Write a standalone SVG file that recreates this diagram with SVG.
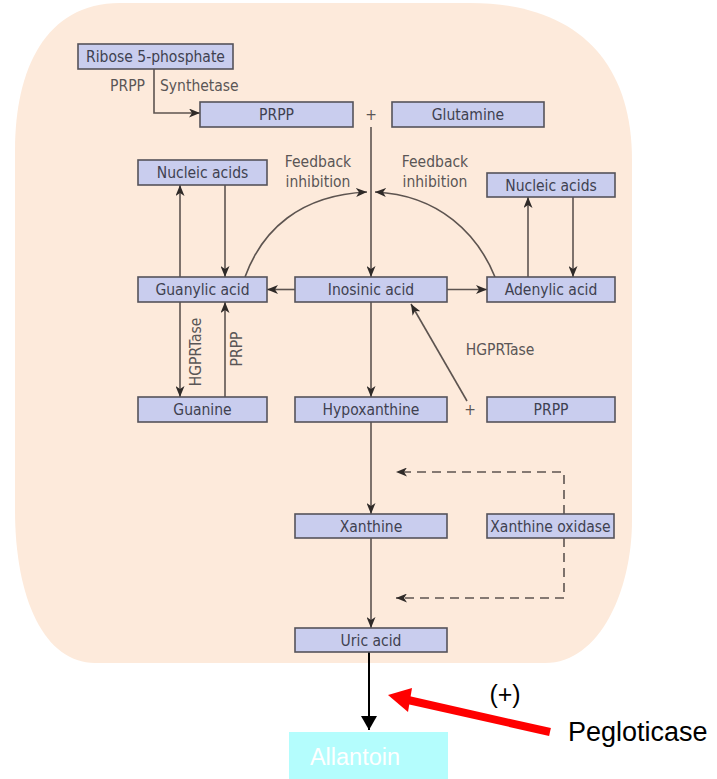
<svg xmlns="http://www.w3.org/2000/svg" width="717" height="779" viewBox="0 0 717 779">
<defs>
<style>
.bg{fill:#fdeadb;stroke:none}
.box rect{fill:#c9cdee;stroke:#55535a;stroke-width:1.6}
.box text{font-family:"DejaVu Sans Condensed","Liberation Sans",Arial,sans-serif;font-size:15.5px;fill:#3f4150;text-anchor:middle}
.lbl{font-family:"DejaVu Sans Condensed","Liberation Sans",Arial,sans-serif;font-size:15.5px;fill:#5a5656}
.ln{fill:none;stroke:#5d5450;stroke-width:1.6}
.dash{fill:none;stroke:#5d5450;stroke-width:1.6;stroke-dasharray:9,6}
</style>
<marker id="ah" markerUnits="userSpaceOnUse" markerWidth="12" markerHeight="9" refX="11" refY="4.5" orient="auto">
<path d="M0,0 L11,4.5 L0,9 L3,4.5 Z" fill="#2f2a28"/>
</marker>
<marker id="bk" markerUnits="userSpaceOnUse" markerWidth="15" markerHeight="16" refX="14" refY="8" orient="auto">
<path d="M0,0 L14,8 L0,16 Z" fill="#000"/>
</marker>
</defs>
<path class="bg" d="M120,3 H470 C575,3 632,60 632,160 V520 C632,590 600,663 545,663 H95 C45,663 15,600 15,510 V150 C15,70 45,3 120,3 Z"/>

<g id="connectors">
<path class="ln" d="M154,69 V113 H200" marker-end="url(#ah)"/>
<path class="ln" d="M371,127 V277" marker-end="url(#ah)"/>
<path class="ln" d="M245,277 C262,230 300,195 367,192" marker-end="url(#ah)"/>
<path class="ln" d="M495,277 C478,235 440,195 375,192" marker-end="url(#ah)"/>
<path class="ln" d="M180,277 V185" marker-end="url(#ah)"/>
<path class="ln" d="M225,185 V277" marker-end="url(#ah)"/>
<path class="ln" d="M528,277 V197" marker-end="url(#ah)"/>
<path class="ln" d="M573,197 V277" marker-end="url(#ah)"/>
<path class="ln" d="M295,289.5 H267" marker-end="url(#ah)"/>
<path class="ln" d="M447,289.5 H487" marker-end="url(#ah)"/>
<path class="ln" d="M180,302 V397" marker-end="url(#ah)"/>
<path class="ln" d="M225,397 V302" marker-end="url(#ah)"/>
<path class="ln" d="M371,302 V397" marker-end="url(#ah)"/>
<path class="ln" d="M467,401 L411,304" marker-end="url(#ah)"/>
<path class="ln" d="M371,422 V514" marker-end="url(#ah)"/>
<path class="ln" d="M371,538 V628" marker-end="url(#ah)"/>
<path class="dash" d="M564,514 V472 H396" marker-end="url(#ah)"/>
<path class="dash" d="M564,538 V598 H396" marker-end="url(#ah)"/>
<path fill="none" stroke="#000" stroke-width="2" d="M369,652 V730" marker-end="url(#bk)"/>
<line x1="550" y1="732" x2="408" y2="700" stroke="#ff0000" stroke-width="8"/>
<polygon points="388,695 412,688 408,712" fill="#ff0000"/>
</g>

<g id="labels">
<text class="lbl" x="145" y="91" text-anchor="end">PRPP</text>
<text class="lbl" x="160" y="91">Synthetase</text>
<text class="lbl" x="371" y="120" text-anchor="middle" font-size="13">+</text>
<text class="lbl" x="318" y="167" text-anchor="middle">Feedback</text>
<text class="lbl" x="318" y="187" text-anchor="middle">inhibition</text>
<text class="lbl" x="435" y="167" text-anchor="middle">Feedback</text>
<text class="lbl" x="435" y="187" text-anchor="middle">inhibition</text>
<text class="lbl" x="500" y="355" text-anchor="middle">HGPRTase</text>
<text class="lbl" x="470" y="415" text-anchor="middle" font-size="13">+</text>
<text class="lbl" transform="translate(201,352) rotate(-90)" text-anchor="middle">HGPRTase</text>
<text class="lbl" transform="translate(242,349) rotate(-90)" text-anchor="middle">PRPP</text>
<text x="505" y="703" font-family="Liberation Sans,Arial,sans-serif" font-size="25" fill="#000" text-anchor="middle">(+)</text>
<text x="568" y="741" font-family="Liberation Sans,Arial,sans-serif" font-size="27" fill="#000">Pegloticase</text>
</g>

<g id="ribose" class="box"><rect x="78" y="44" width="155" height="25"/><text x="155.5" y="62">Ribose 5-phosphate</text></g>
<g id="prpp1" class="box"><rect x="200" y="102" width="153" height="25"/><text x="276.5" y="120">PRPP</text></g>
<g id="glutamine" class="box"><rect x="392" y="102" width="152" height="25"/><text x="468" y="120">Glutamine</text></g>
<g id="nucleic-left" class="box"><rect x="138" y="160" width="129" height="25"/><text x="202.5" y="178">Nucleic acids</text></g>
<g id="nucleic-right" class="box"><rect x="487" y="173" width="128" height="24"/><text x="551" y="190.5">Nucleic acids</text></g>
<g id="guanylic" class="box"><rect x="138" y="277" width="129" height="25"/><text x="202.5" y="295">Guanylic acid</text></g>
<g id="inosinic" class="box"><rect x="295" y="277" width="152" height="25"/><text x="371" y="295">Inosinic acid</text></g>
<g id="adenylic" class="box"><rect x="487" y="277" width="128" height="25"/><text x="551" y="295">Adenylic acid</text></g>
<g id="guanine" class="box"><rect x="138" y="397" width="129" height="25"/><text x="202.5" y="415">Guanine</text></g>
<g id="hypoxanthine" class="box"><rect x="295" y="397" width="152" height="25"/><text x="371" y="415">Hypoxanthine</text></g>
<g id="prpp2" class="box"><rect x="487" y="397" width="128" height="25"/><text x="551" y="415">PRPP</text></g>
<g id="xanthine" class="box"><rect x="295" y="514" width="152" height="24"/><text x="371" y="531.5">Xanthine</text></g>
<g id="xanthine-oxidase" class="box"><rect x="487" y="514" width="127" height="24"/><text x="550.5" y="531.5">Xanthine oxidase</text></g>
<g id="uric" class="box"><rect x="295" y="628" width="152" height="24"/><text x="371" y="645.5">Uric acid</text></g>
<g id="allantoin"><rect x="289" y="732" width="159" height="47" fill="#b4fdfd"/><text x="355" y="765" font-family="Liberation Sans,Arial,sans-serif" font-size="23.5" fill="#ffffff" text-anchor="middle">Allantoin</text></g>
</svg>
